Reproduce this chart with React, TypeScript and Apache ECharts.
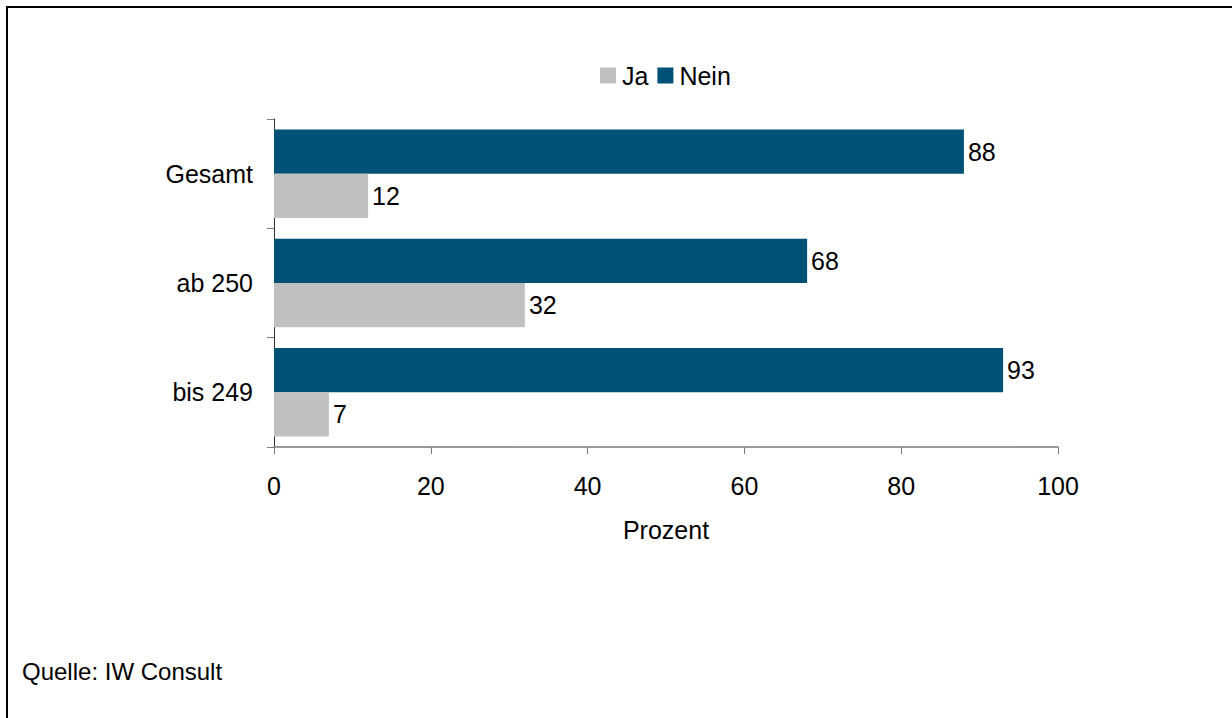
import React, { useEffect, useRef } from "react";
import * as echarts from "echarts";

const categories = ["bis 249", "ab 250", "Gesamt"];
const jaValues = [7, 32, 12];
const neinValues = [93, 68, 88];
const xTicks = { min: 0, max: 100, interval: 20 };
const legendNames = ["Ja", "Nein"];
const axisName = "Prozent";
const sourceText = "Quelle: IW Consult";

const FONT = "Liberation Sans, Arial, sans-serif";
const FS = 25;

export default function App() {
  const ref = useRef<HTMLDivElement>(null);
  useEffect(() => {
    document.body.style.margin = "0";
    const chart = echarts.init(ref.current!, null, { renderer: "svg" });
    const labelStyle = {
      show: true,
      position: "right" as const,
      distance: 4,
      fontSize: FS,
      color: "#000",
      fontFamily: FONT,
    };
    chart.setOption({
      animation: false,
      backgroundColor: "#fff",
      textStyle: { fontFamily: FONT },
      legend: {
        data: legendNames,
        left: 595,
        top: 58,
        icon: "rect",
        itemWidth: 16,
        itemHeight: 16,
        itemGap: 9,
        textStyle: { fontSize: FS, color: "#000", fontFamily: FONT, padding: [0, 0, 0, 1] },
      },
      grid: { left: 274, width: 784, top: 119, height: 328 },
      xAxis: {
        type: "value",
        min: xTicks.min,
        max: xTicks.max,
        interval: xTicks.interval,
        splitLine: { show: false },
        axisLine: { show: true, lineStyle: { color: "#7a7a7a", width: 1.5 } },
        axisTick: { show: true, length: 7, lineStyle: { color: "#7a7a7a" } },
        axisLabel: { fontSize: FS, color: "#000", margin: 26, fontFamily: FONT },
        name: axisName,
        nameLocation: "middle",
        nameGap: 70,
        nameTextStyle: { fontSize: FS, color: "#000", fontFamily: FONT },
      },
      yAxis: {
        type: "category",
        data: categories,
        axisLine: { show: true, lineStyle: { color: "#333", width: 1 } },
        axisTick: { show: true, length: 7, lineStyle: { color: "#7a7a7a" } },
        axisLabel: { fontSize: FS, color: "#000", margin: 21, fontFamily: FONT },
      },
      series: [
        {
          name: "Nein",
          type: "bar",
          data: neinValues,
          barGap: "0%",
          barCategoryGap: "19%",
          itemStyle: { color: "#005176" },
          label: labelStyle,
        },
        {
          name: "Ja",
          type: "bar",
          data: jaValues,
          barGap: "0%",
          barCategoryGap: "19%",
          itemStyle: { color: "#C0C0C0" },
          label: labelStyle,
        },
      ],
      graphic: [
        {
          type: "rect",
          shape: { x: 7, y: 7, width: 1400, height: 900 },
          style: { fill: "none", stroke: "#000", lineWidth: 2 },
          silent: true,
        },
        {
          type: "text",
          left: 22,
          top: 659,
          style: { text: sourceText, fontSize: 24, fill: "#000", fontFamily: FONT },
        },
      ],
    });
    return () => chart.dispose();
  }, []);
  return (
    <div
      ref={ref}
      style={{ position: "fixed", left: 0, top: 0, width: 1232, height: 718 }}
    />
  );
}
